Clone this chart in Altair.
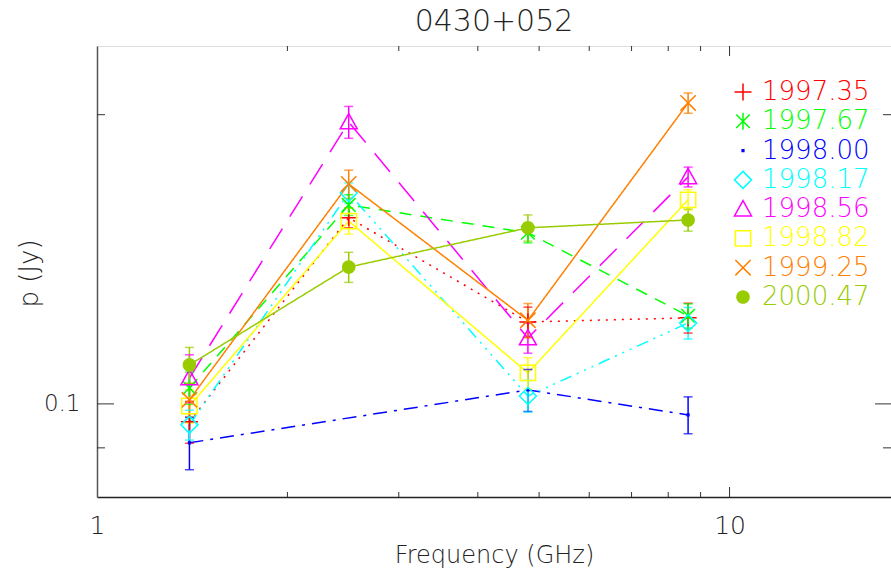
import altair as alt
import pandas as pd

# ---------------- data ----------------
freqs = [1.4, 2.5, 4.8, 8.6]
names = ["1997.35", "1997.67", "1998.00", "1998.17", "1998.56", "1998.82", "1999.25", "2000.47"]
colors = ["#ff0000", "#00ff00", "#0000ff", "#00ffff", "#ff00ff", "#ffff00", "#ff8000", "#99cc00"]

p_1997_35 = [0.0958, 0.1562, 0.1217, 0.1229]
e_1997_35 = [0.0048, 0.0037, 0.0044, 0.0044]
p_1997_67 = [0.1039, 0.1611, 0.1507, 0.1235]
e_1997_67 = [0.0040, 0.0040, 0.0036, 0.0036]
p_1998_00 = [0.0911, None, 0.1034, 0.0974]
e_1998_00 = [0.0057, None, 0.0052, 0.0043]
p_1998_17 = [0.0951, 0.1658, 0.1019, 0.1214]
e_1998_17 = [0.0034, 0.0040, 0.0039, 0.0046]
p_1998_56 = [0.1064, 0.1965, 0.1171, 0.1723]
e_1998_56 = [0.0061, 0.0075, 0.0042, 0.0041]
p_1998_82 = [0.0995, 0.1550, 0.1077, 0.1631]
e_1998_82 = [0.0040, 0.0048, 0.0040, 0.0040]
p_1999_25 = [0.1010, 0.1694, 0.1222, 0.2057]
e_1999_25 = [0.0040, 0.0057, 0.0050, 0.0050]
p_2000_47 = [0.1098, 0.1388, 0.1525, 0.1554]
e_2000_47 = [0.0047, 0.0050, 0.0048, 0.0041]

series_vals = [p_1997_35, p_1997_67, p_1998_00, p_1998_17, p_1998_56, p_1998_82, p_1999_25, p_2000_47]
series_errs = [e_1997_35, e_1997_67, e_1998_00, e_1998_17, e_1998_56, e_1998_82, e_1999_25, e_2000_47]

x_major_ticks = [10]
x_minor_ticks = [2, 3, 4, 5, 6, 7, 8, 9]
y_major_ticks = [0.1]
y_minor_ticks = [0.09, 0.2]

# ---------------- styles ----------------
dashes = [[2, 6], [12, 9], [14, 7, 3, 7], [12, 6, 2, 6, 2, 6, 2, 6], [24, 14], [1, 0], [1, 0], [1, 0]]
shapes = [
    "M-1,0L1,0M0,-1L0,1",
    "M0,-1L0,1M-0.8,-0.8L0.8,0.8M-0.8,0.8L0.8,-0.8",
    "M-0.1,-0.1L0.1,-0.1L0.1,0.1L-0.1,0.1Z",
    "M0,-1L1,0L0,1L-1,0Z",
    "M0,-1L1,0.8L-1,0.8Z",
    "M-0.9,-0.9L0.9,-0.9L0.9,0.9L-0.9,0.9Z",
    "M-0.9,-0.9L0.9,0.9M-0.9,0.9L0.9,-0.9",
    "M0.8,0A0.8,0.8,0,1,1,-0.8,0A0.8,0.8,0,1,1,0.8,0Z",
]

rows = []
for name, vals, errs in zip(names, series_vals, series_errs):
    for f, v, e in zip(freqs, vals, errs):
        if v is None:
            continue
        rows.append(dict(series=name, freq=f, p=v, lo=v - e, hi=v + e))
df = pd.DataFrame(rows)
leg_df = pd.DataFrame({"series": names})

FONT = "DejaVu Sans"
TXT = "#222222"
W, H = 794, 451

xs = alt.Scale(type="log", domain=[1, 18], nice=False)
ys = alt.Scale(type="log", domain=[0.080, 0.2358], nice=False)
cs = alt.Scale(domain=names, range=colors)
ss = alt.Scale(domain=names, range=shapes)
ds = alt.Scale(domain=names, range=dashes)
leg_y = alt.Scale(type="point", domain=names, range=[46, 251], padding=0)

x_axis = alt.Axis(
    values=[1, 10], format="~g", title="Frequency (GHz)", ticks=False, tickSize=0,
    domain=True, domainColor="#222222", domainWidth=1.5, grid=False,
    labelFont=FONT, labelFontSize=25, labelFontWeight=200,
    labelColor=TXT, labelPadding=36, labelBaseline="alphabetic", labelFlush=False,
    titleFont=FONT, titleFontSize=24, titleFontWeight=200, titleColor=TXT,
    titleY=65, titleBaseline="alphabetic",
)
y_axis = alt.Axis(
    values=[0.1], format=".1f", title="p (Jy)", ticks=False, tickSize=0,
    domain=True, domainColor="#555555", domainWidth=1.5, grid=False,
    labelFont=FONT, labelFontSize=23, labelFontWeight=200,
    labelColor=TXT, labelPadding=17, labelBaseline="middle", labelAlign="right",
    titleFont=FONT, titleFontSize=26, titleFontWeight=200, titleColor=TXT,
    titleX=-68, titleY=227, titleAngle=270, titleBaseline="middle", titleAlign="center",
)

base = alt.Chart(df)
col = alt.Color("series:N", scale=cs, legend=None)
shp = alt.Shape("series:N", scale=ss, legend=None)


def X(field):
    return alt.X(field, scale=xs, axis=x_axis)


lines = base.mark_line(strokeWidth=1.5).encode(
    x=X("freq:Q"),
    y=alt.Y("p:Q", scale=ys, axis=y_axis),
    color=col,
    strokeDash=alt.StrokeDash("series:N", scale=ds, legend=None),
    detail="series:N",
)

err = base.mark_rule(strokeWidth=1.5).encode(
    x=X("freq:Q"),
    y=alt.Y("lo:Q", scale=ys, axis=None),
    y2="hi:Q",
    color=col,
)
cap_lo = base.mark_tick(orient="horizontal", size=9, thickness=1.5).encode(
    x=X("freq:Q"),
    y=alt.Y("lo:Q", scale=ys, axis=None),
    color=col,
)
cap_hi = base.mark_tick(orient="horizontal", size=9, thickness=1.5).encode(
    x=X("freq:Q"),
    y=alt.Y("hi:Q", scale=ys, axis=None),
    color=col,
)

pts_open = base.transform_filter("datum.series != '2000.47'").mark_point(
    filled=False, strokeWidth=1.5, size=289, opacity=1
).encode(
    x=X("freq:Q"),
    y=alt.Y("p:Q", scale=ys, axis=None),
    color=col, shape=shp,
)
pts_fill = base.transform_filter("datum.series == '2000.47'").mark_point(
    filled=True, size=289, opacity=1
).encode(
    x=X("freq:Q"),
    y=alt.Y("p:Q", scale=ys, axis=None),
    color=col, shape=shp,
)

# ---- legend (manual, coloured labels) ----
leg_base = alt.Chart(leg_df)
leg_open = leg_base.transform_filter("datum.series != '2000.47'").mark_point(
    filled=False, strokeWidth=1.5, size=289, opacity=1
).encode(
    x=alt.value(646), y=alt.Y("series:N", scale=leg_y, axis=None), color=col, shape=shp
)
leg_fill = leg_base.transform_filter("datum.series == '2000.47'").mark_point(
    filled=True, size=289, opacity=1
).encode(
    x=alt.value(646), y=alt.Y("series:N", scale=leg_y, axis=None), color=col, shape=shp
)
leg_text = leg_base.mark_text(
    align="left", baseline="middle", font=FONT, fontSize=26, fontWeight=200
).encode(
    x=alt.value(665), y=alt.Y("series:N", scale=leg_y, axis=None), text="series:N", color=col
)

TICK = "#333333"
xmaj = pd.DataFrame({"freq": x_major_ticks})
xmin = pd.DataFrame({"freq": x_minor_ticks})
ymaj = pd.DataFrame({"t": y_major_ticks})
ymin = pd.DataFrame({"t": y_minor_ticks})


def xtick(d, y0, y1):
    return alt.Chart(d).mark_rule(color=TICK, strokeWidth=1).encode(
        x=X("freq:Q"), y=alt.value(y0), y2=alt.value(y1)
    )


def ytick(d, x0, x1):
    return alt.Chart(d).mark_rule(color=TICK, strokeWidth=1).encode(
        y=alt.Y("t:Q", scale=ys, axis=None), x=alt.value(x0), x2=alt.value(x1)
    )


ticks = [
    xtick(xmaj, H, H - 10), xtick(xmin, H, H - 5),
    xtick(xmaj, 0, 10), xtick(xmin, 0, 5),
    ytick(ymaj, 0, 17), ytick(ymin, 0, 8),
    ytick(ymaj, W, W - 16), ytick(ymin, W, W - 8),
]

chart = alt.layer(
    lines, err, cap_lo, cap_hi, pts_open, pts_fill, leg_open, leg_fill, leg_text, *ticks
).resolve_scale(y="independent").properties(
    width=W, height=H,
    title=alt.TitleParams(
        "0430+052", font=FONT, fontSize=30, fontWeight=200, color=TXT,
        anchor="middle", offset=9, frame="group",
    ),
    autosize=alt.AutoSizeParams(type="none"),
    padding={"left": 97, "top": 46, "right": 0, "bottom": 77},
).configure_view(stroke="#666666", strokeWidth=1.5, strokeOpacity=1).configure(background="white")

chart.save("out.html", embed_options={"renderer": "svg", "actions": False})
